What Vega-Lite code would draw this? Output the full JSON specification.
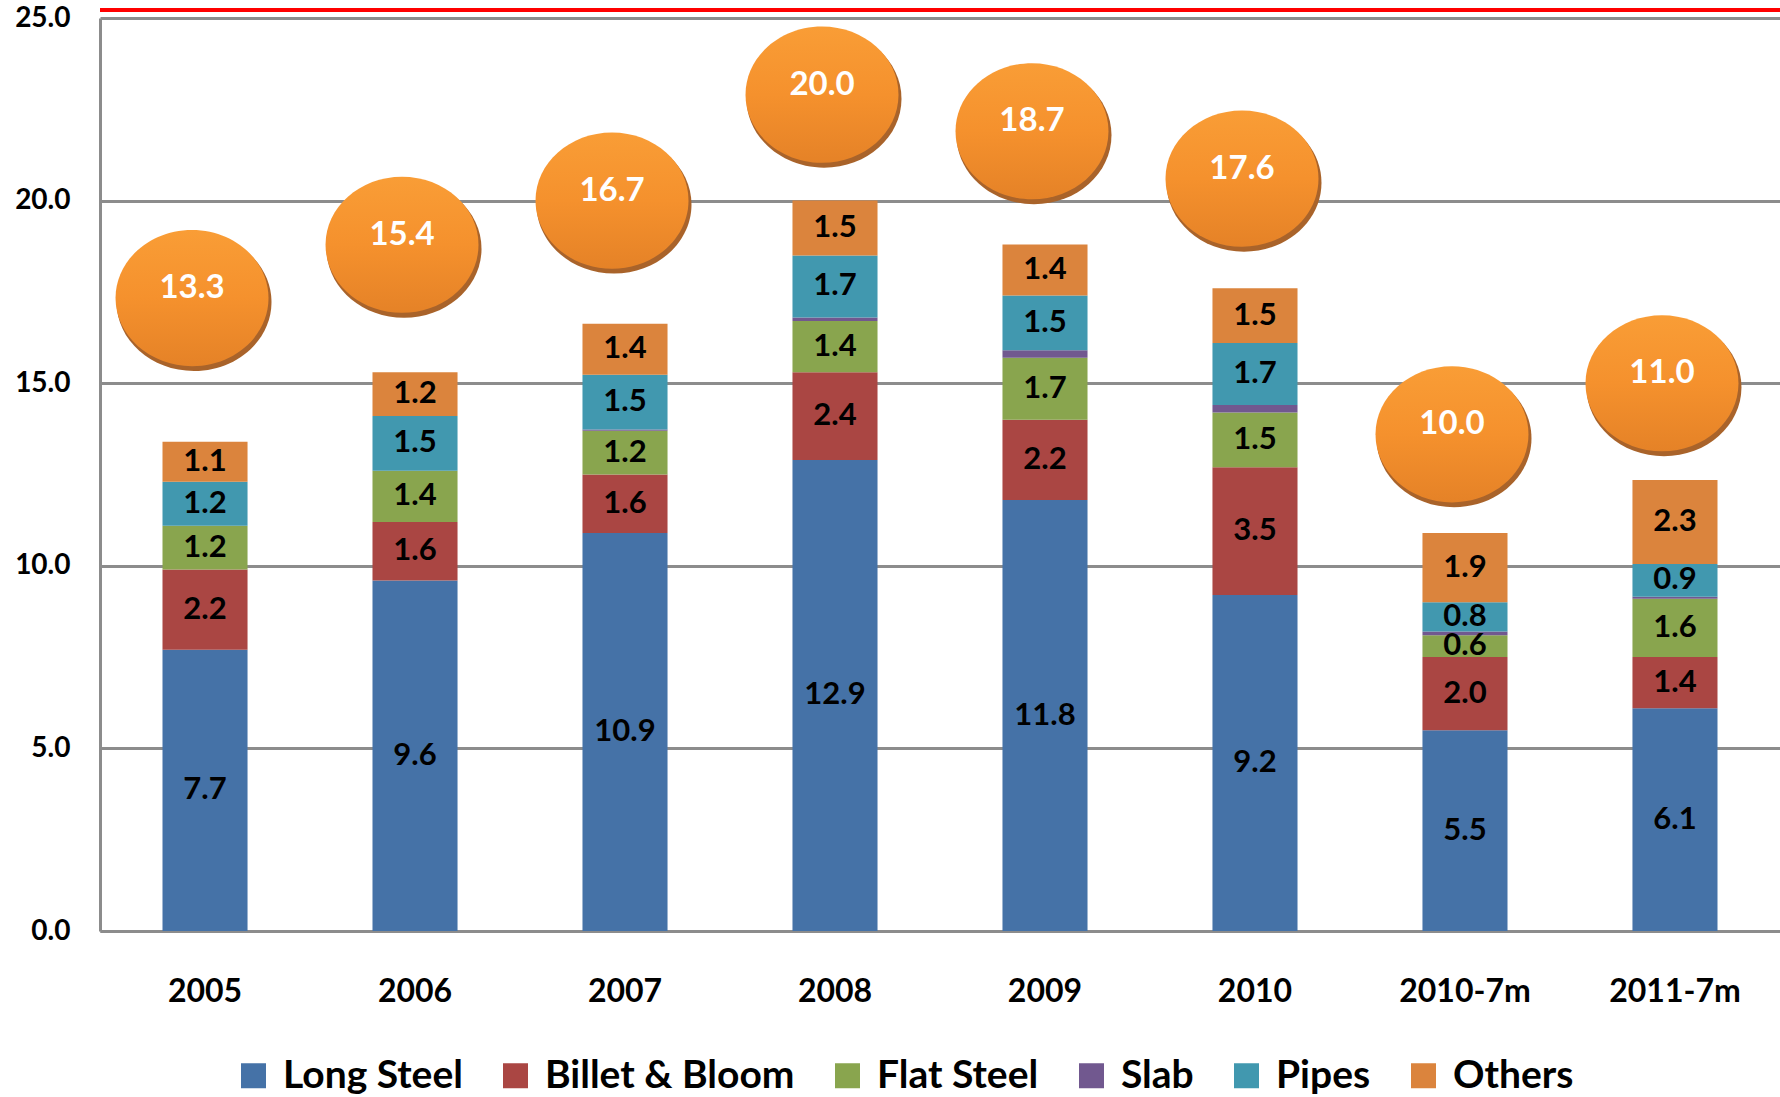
{
  "$schema": "https://vega.github.io/schema/vega-lite/v6.json",
  "width": 1680,
  "height": 913,
  "autosize": {"type": "none"},
  "padding": {"left": 100, "top": 18, "right": 0, "bottom": 166},
  "background": "white",
  "config": {
    "view": {"stroke": null},
    "font": "Lato",
    "axis": {"labelFont": "Lato", "labelFontWeight": "bold", "labelColor": "#000000"}
  },
  "datasets": {
    "bars": [
      {"year": "2005", "cat": "Long Steel", "v": 7.7, "k": 1},
      {"year": "2005", "cat": "Billet & Bloom", "v": 2.2, "k": 2},
      {"year": "2005", "cat": "Flat Steel", "v": 1.2, "k": 3},
      {"year": "2005", "cat": "Slab", "v": 0, "k": 4},
      {"year": "2005", "cat": "Pipes", "v": 1.2, "k": 5},
      {"year": "2005", "cat": "Others", "v": 1.1, "k": 6},
      {"year": "2006", "cat": "Long Steel", "v": 9.6, "k": 1},
      {"year": "2006", "cat": "Billet & Bloom", "v": 1.6, "k": 2},
      {"year": "2006", "cat": "Flat Steel", "v": 1.4, "k": 3},
      {"year": "2006", "cat": "Slab", "v": 0, "k": 4},
      {"year": "2006", "cat": "Pipes", "v": 1.5, "k": 5},
      {"year": "2006", "cat": "Others", "v": 1.2, "k": 6},
      {"year": "2007", "cat": "Long Steel", "v": 10.9, "k": 1},
      {"year": "2007", "cat": "Billet & Bloom", "v": 1.6, "k": 2},
      {"year": "2007", "cat": "Flat Steel", "v": 1.2, "k": 3},
      {"year": "2007", "cat": "Slab", "v": 0.03, "k": 4},
      {"year": "2007", "cat": "Pipes", "v": 1.5, "k": 5},
      {"year": "2007", "cat": "Others", "v": 1.4, "k": 6},
      {"year": "2008", "cat": "Long Steel", "v": 12.9, "k": 1},
      {"year": "2008", "cat": "Billet & Bloom", "v": 2.4, "k": 2},
      {"year": "2008", "cat": "Flat Steel", "v": 1.4, "k": 3},
      {"year": "2008", "cat": "Slab", "v": 0.1, "k": 4},
      {"year": "2008", "cat": "Pipes", "v": 1.7, "k": 5},
      {"year": "2008", "cat": "Others", "v": 1.5, "k": 6},
      {"year": "2009", "cat": "Long Steel", "v": 11.8, "k": 1},
      {"year": "2009", "cat": "Billet & Bloom", "v": 2.2, "k": 2},
      {"year": "2009", "cat": "Flat Steel", "v": 1.7, "k": 3},
      {"year": "2009", "cat": "Slab", "v": 0.2, "k": 4},
      {"year": "2009", "cat": "Pipes", "v": 1.5, "k": 5},
      {"year": "2009", "cat": "Others", "v": 1.4, "k": 6},
      {"year": "2010", "cat": "Long Steel", "v": 9.2, "k": 1},
      {"year": "2010", "cat": "Billet & Bloom", "v": 3.5, "k": 2},
      {"year": "2010", "cat": "Flat Steel", "v": 1.5, "k": 3},
      {"year": "2010", "cat": "Slab", "v": 0.2, "k": 4},
      {"year": "2010", "cat": "Pipes", "v": 1.7, "k": 5},
      {"year": "2010", "cat": "Others", "v": 1.5, "k": 6},
      {"year": "2010-7m", "cat": "Long Steel", "v": 5.5, "k": 1},
      {"year": "2010-7m", "cat": "Billet & Bloom", "v": 2.0, "k": 2},
      {"year": "2010-7m", "cat": "Flat Steel", "v": 0.6, "k": 3},
      {"year": "2010-7m", "cat": "Slab", "v": 0.1, "k": 4},
      {"year": "2010-7m", "cat": "Pipes", "v": 0.8, "k": 5},
      {"year": "2010-7m", "cat": "Others", "v": 1.9, "k": 6},
      {"year": "2011-7m", "cat": "Long Steel", "v": 6.1, "k": 1},
      {"year": "2011-7m", "cat": "Billet & Bloom", "v": 1.4, "k": 2},
      {"year": "2011-7m", "cat": "Flat Steel", "v": 1.6, "k": 3},
      {"year": "2011-7m", "cat": "Slab", "v": 0.05, "k": 4},
      {"year": "2011-7m", "cat": "Pipes", "v": 0.9, "k": 5},
      {"year": "2011-7m", "cat": "Others", "v": 2.3, "k": 6}
    ],
    "bubbles": [
      {"year": "2005", "total": 13.3, "level": 17.33},
      {"year": "2006", "total": 15.4, "level": 18.79},
      {"year": "2007", "total": 16.7, "level": 20.0},
      {"year": "2008", "total": 20.0, "level": 22.9},
      {"year": "2009", "total": 18.7, "level": 21.9},
      {"year": "2010", "total": 17.6, "level": 20.6},
      {"year": "2010-7m", "total": 10.0, "level": 13.6},
      {"year": "2011-7m", "total": 11.0, "level": 15.0}
    ]
  },
  "encoding": {
    "x": {
      "field": "year",
      "type": "nominal",
      "sort": ["2005", "2006", "2007", "2008", "2009", "2010", "2010-7m", "2011-7m"],
      "scale": {"paddingInner": 0.595, "paddingOuter": 0.2976},
      "axis": {
        "title": null,
        "labelAngle": 0,
        "labelFontSize": 32,
        "labelPadding": 45,
        "ticks": false,
        "domainColor": "#8C8C8C",
        "domainWidth": 3
      }
    }
  },
  "layer": [
    {
      "data": {"name": "bars"},
      "mark": {"type": "bar"},
      "encoding": {
        "y": {
          "field": "v",
          "type": "quantitative",
          "stack": "zero",
          "scale": {"domain": [0, 25], "nice": false},
          "axis": {
            "title": null,
            "values": [0, 5, 10, 15, 20, 25],
            "format": ".1f",
            "labelFontSize": 28,
            "labelPadding": 30,
            "ticks": false,
            "domainColor": "#8C8C8C",
            "domainWidth": 3,
            "gridColor": "#8C8C8C",
            "gridWidth": 3,
            "gridOpacity": 1
          }
        },
        "color": {
          "field": "cat",
          "type": "nominal",
          "scale": {
            "domain": ["Long Steel", "Billet & Bloom", "Flat Steel", "Slab", "Pipes", "Others"],
            "range": ["#4572A7", "#AA4643", "#89A54E", "#71588F", "#4198AF", "#DB843D"]
          },
          "legend": {
            "title": null,
            "orient": "none",
            "direction": "horizontal",
            "legendX": 134,
            "legendY": 1038,
            "symbolType": "square",
            "symbolSize": 625,
            "symbolStrokeWidth": 0,
            "symbolOpacity": 1,
            "labelFont": "Lato",
            "labelFontSize": 39,
            "labelFontWeight": "bold",
            "labelColor": "#000000",
            "labelOffset": 10,
            "columnPadding": 33,
            "labelLimit": 500
          }
        },
        "order": {"field": "k", "type": "quantitative"}
      }
    },
    {
      "data": {"name": "bars"},
      "mark": {"type": "text", "font": "Lato", "fontSize": 31, "fontWeight": "bold", "color": "#000000", "baseline": "middle", "align": "center"},
      "encoding": {
        "y": {"field": "v", "type": "quantitative", "stack": "zero", "bandPosition": 0.5},
        "detail": {"field": "cat"},
        "order": {"field": "k", "type": "quantitative"},
        "text": {
          "condition": {"test": "datum.cat === 'Slab'", "value": ""},
          "field": "v",
          "type": "quantitative",
          "format": ".1f"
        }
      }
    },
    {
      "data": {"values": [{"lvl": 25.22}]},
      "mark": {"type": "rule", "color": "#FF0000", "strokeWidth": 4, "clip": false},
      "encoding": {
        "x": null,
        "y": {"field": "lvl", "type": "quantitative"}
      }
    },
    {
      "data": {"name": "bubbles"},
      "mark": {
        "type": "point",
        "shape": "M -1 0 A 1 0.89 0 1 0 1 0 A 1 0.89 0 1 0 -1 0 Z",
        "size": 24025,
        "filled": true,
        "color": "#A9632A",
        "opacity": 1,
        "xOffset": -11,
        "yOffset": 4
      },
      "encoding": {
        "y": {"field": "level", "type": "quantitative"}
      }
    },
    {
      "data": {"name": "bubbles"},
      "mark": {
        "type": "point",
        "shape": "M -1 0 A 1 0.89 0 1 0 1 0 A 1 0.89 0 1 0 -1 0 Z",
        "size": 23400,
        "filled": true,
        "opacity": 1,
        "xOffset": -13,
        "color": {
          "gradient": "linear",
          "x1": 0, "y1": 0, "x2": 0, "y2": 1,
          "stops": [
            {"offset": 0, "color": "#F99D36"},
            {"offset": 0.5, "color": "#F5912D"},
            {"offset": 1, "color": "#E58227"}
          ]
        }
      },
      "encoding": {
        "y": {"field": "level", "type": "quantitative"}
      }
    },
    {
      "data": {"name": "bubbles"},
      "mark": {"type": "text", "font": "Lato", "fontSize": 33, "fontWeight": "bold", "color": "#FFFFFF", "baseline": "middle", "align": "center", "dx": -13, "dy": -10},
      "encoding": {
        "y": {"field": "level", "type": "quantitative"},
        "text": {"field": "total", "type": "quantitative", "format": ".1f"}
      }
    }
  ]
}
